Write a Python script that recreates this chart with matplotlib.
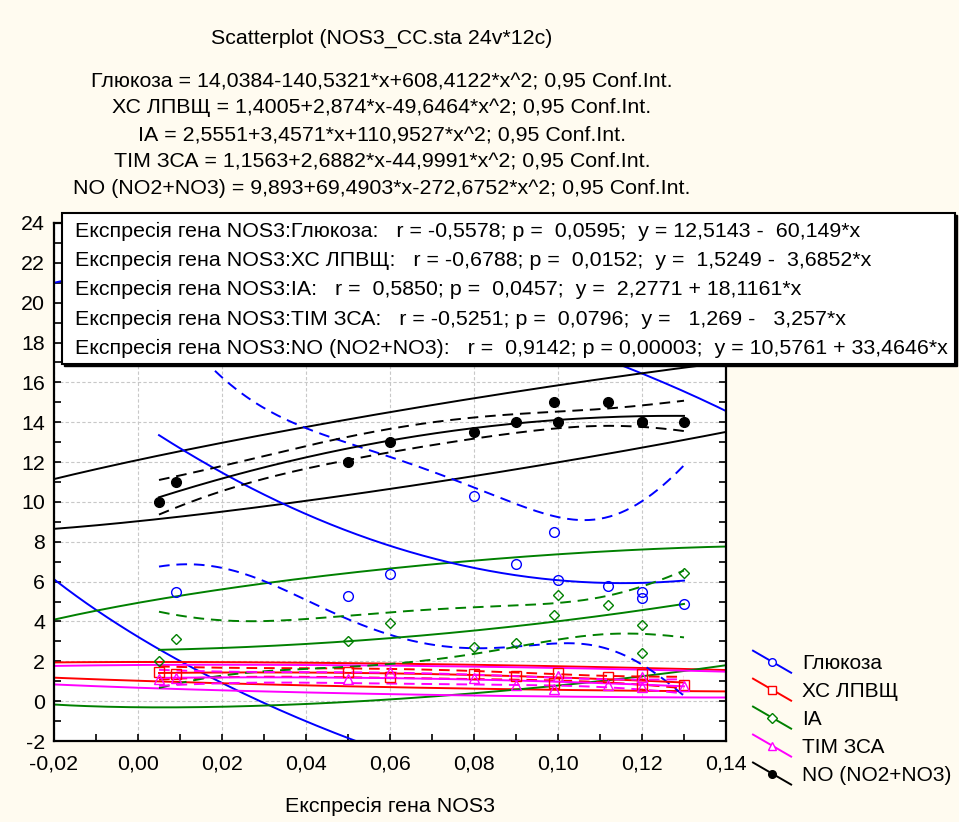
import numpy as np
import matplotlib
matplotlib.use("Agg")
import matplotlib.pyplot as plt
from matplotlib.lines import Line2D
from matplotlib.legend_handler import HandlerBase
from matplotlib.patches import Rectangle
from matplotlib.ticker import MultipleLocator, FuncFormatter

plt.rcParams["font.family"] = ["Liberation Sans", "DejaVu Sans"]

# ---- data -------------------------------------------------------------
x_expr = [0.005, 0.009, 0.05, 0.06, 0.08, 0.09, 0.099, 0.10, 0.112, 0.12, 0.12, 0.13]
glucose = [20.9, 5.5, 5.3, 6.4, 10.3, 6.9, 8.5, 6.1, 5.8, 5.5, 5.2, 4.9]
hdl = [1.47, 1.34, 1.47, 1.2, 1.34, 1.27, 0.92, 1.42, 1.22, 1.37, 0.85, 0.8]
ia = [2.03, 3.13, 3.03, 3.93, 2.73, 2.93, 4.33, 5.33, 4.83, 3.83, 2.43, 6.43]
tim = [1.1, 1.15, 1.1, 1.45, 1.15, 0.8, 0.6, 1.25, 0.8, 1.2, 0.7, 0.75]
no_total = [10, 11, 12, 13, 13.5, 14, 15, 14, 15, 14, 14, 14]

series_names = ["Глюкоза", "ХС ЛПВЩ", "ІА", "ТІМ ЗСА", "NO (NO2+NO3)"]
series_values = [glucose, hdl, ia, tim, no_total]

# quadratic fits: b0 + b1*x + b2*x^2
quad_coefs = [
    [14.0384, -140.5321, 608.4122],
    [1.4005, 2.874, -49.6464],
    [2.5551, 3.4571, 110.9527],
    [1.1563, 2.6882, -44.9991],
    [9.893, 69.4903, -272.6752],
]
quad_texts = [
    "Глюкоза = 14,0384-140,5321*x+608,4122*x^2; 0,95 Conf.Int.",
    "ХС ЛПВЩ = 1,4005+2,874*x-49,6464*x^2; 0,95 Conf.Int.",
    "ІА = 2,5551+3,4571*x+110,9527*x^2; 0,95 Conf.Int.",
    "ТІМ ЗСА = 1,1563+2,6882*x-44,9991*x^2; 0,95 Conf.Int.",
    "NO (NO2+NO3) = 9,893+69,4903*x-272,6752*x^2; 0,95 Conf.Int.",
]
corr_texts = [
    "Експресія гена NOS3:Глюкоза:   r = -0,5578; p =  0,0595;  y = 12,5143 -  60,149*x",
    "Експресія гена NOS3:ХС ЛПВЩ:   r = -0,6788; p =  0,0152;  y =  1,5249 -  3,6852*x",
    "Експресія гена NOS3:ІА:   r =  0,5850; p =  0,0457;  y =  2,2771 + 18,1161*x",
    "Експресія гена NOS3:ТІМ ЗСА:   r = -0,5251; p =  0,0796;  y =   1,269 -   3,257*x",
    "Експресія гена NOS3:NO (NO2+NO3):   r =  0,9142; p = 0,00003;  y = 10,5761 + 33,4646*x",
]

# ---- styles -----------------------------------------------------------
colors = ["#0000FF", "#FF0000", "#008000", "#FF00FF", "#000000"]
markers = ["o", "s", "D", "^", "o"]
msizes = [7, 7, 5.5, 7.5, 7]
filled = [False, False, False, False, True]

BG = "#FFFBF0"
FS = 15.4
T_975_9 = 2.2622  # Student t, 0.975 quantile, 9 df

fig = plt.figure(figsize=(9.59, 8.22), dpi=100, facecolor=BG)
ax = fig.add_axes([54 / 959, 1 - 741 / 822, 672 / 959, 518 / 822])
ax.set_facecolor("white")

x = np.asarray(x_expr, float)
n = len(x)
xg = np.linspace(x.min(), x.max(), 200)
X = np.column_stack([np.ones(n), x, x ** 2])
Xg = np.column_stack([np.ones_like(xg), xg, xg ** 2])
XtX_inv = np.linalg.inv(X.T @ X)

# scale of the 95% prediction ellipse (F quantile with 2 and n-2 df)
nu = n - 2
f_q = nu / 2 * (0.05 ** (-2 / nu) - 1)
ell_c = np.sqrt(2 * (n - 1) * (n + 1) / (n * (n - 2)) * f_q)
t = np.linspace(0, 2 * np.pi, 720)

dash = (0, (5.5, 3.5))
for vals, coef, col, mk, ms, fl in zip(series_values, quad_coefs, colors, markers, msizes, filled):
    y = np.asarray(vals, float)
    b = np.asarray(coef)
    # fitted curve and confidence band of the mean
    yfit = Xg @ b
    resid = y - X @ b
    s = np.sqrt(resid @ resid / (n - 3))
    se = s * np.sqrt(np.einsum("ij,jk,ik->i", Xg, XtX_inv, Xg))
    ax.plot(xg, yfit, color=col, lw=1.4, zorder=3)
    ax.plot(xg, yfit + T_975_9 * se, color=col, lw=1.4, ls=dash, zorder=3)
    ax.plot(xg, yfit - T_975_9 * se, color=col, lw=1.4, ls=dash, zorder=3)
    # prediction ellipse
    cov = np.cov(np.vstack([x, y]))
    L = np.linalg.cholesky(cov)
    pts = np.array([x.mean(), y.mean()])[:, None] + ell_c * L @ np.vstack([np.cos(t), np.sin(t)])
    ax.plot(pts[0], pts[1], color=col, lw=1.4, zorder=2)
    # points
    ax.plot(x, y, ls="none", marker=mk, ms=ms, mec=col, mew=1.0,
            mfc=col if fl else "none", zorder=4)

ax.set_xlim(-0.02, 0.14)
ax.set_ylim(-2, 24)
ax.xaxis.set_major_locator(MultipleLocator(0.02))
ax.xaxis.set_minor_locator(MultipleLocator(0.01))
ax.yaxis.set_major_locator(MultipleLocator(2))
ax.yaxis.set_minor_locator(MultipleLocator(1))
ax.xaxis.set_major_formatter(FuncFormatter(lambda v, p: f"{v:.2f}".replace(".", ",").replace("-0,00", "0,00")))
ax.yaxis.set_major_formatter(FuncFormatter(lambda v, p: f"{v:.0f}"))
ax.tick_params(which="both", direction="in", top=True, right=True, length=5, width=1.2,
               labelsize=FS)
ax.tick_params(axis="x", pad=10)
ax.tick_params(axis="y", pad=6.5)
ax.grid(True, which="major", color="#C8C8C8", lw=0.8, ls=(0, (3, 2)))
for sp in ax.spines.values():
    sp.set_linewidth(1.6)
ax.set_xlabel("Експресія гена NOS3", fontsize=FS, labelpad=16.5)

# titles
fig.text(382 / 959, 1 - 38 / 822, "Scatterplot (NOS3_CC.sta 24v*12c)", ha="center", va="center", fontsize=FS)
for i, s in enumerate(quad_texts):
    fig.text(382 / 959, 1 - (81 + 26.8 * i) / 822, s, ha="center", va="center", fontsize=FS)

# statistics box
bx0, bx1, by0, by1 = 62 / 959, 955 / 959, 1 - 364 / 822, 1 - 213 / 822
fig.add_artist(Rectangle((bx0 + 2 / 959, by0 - 2 / 822), bx1 - bx0, by1 - by0,
                         transform=fig.transFigure, facecolor="black", edgecolor="black", zorder=5))
fig.add_artist(Rectangle((bx0, by0), bx1 - bx0, by1 - by0, transform=fig.transFigure,
                         facecolor="white", edgecolor="black", lw=1.5, zorder=6))
for i, s in enumerate(corr_texts):
    fig.text(75 / 959, 1 - (231 + 29.4 * i) / 822, s, ha="left", va="center", fontsize=FS, zorder=7)


# legend with slanted line handles
class SlantHandler(HandlerBase):
    def create_artists(self, legend, orig, xdescent, ydescent, width, height, fontsize, trans):
        x0, x1 = -xdescent, -xdescent + width
        yc = -ydescent + height / 2
        h = 0.53 * fontsize
        ln = Line2D([x0, x1], [yc + h, yc - h], color=orig.get_color(), lw=1.4)
        mk = Line2D([(x0 + x1) / 2], [yc], ls="none", marker=orig.get_marker(),
                    ms=orig.get_markersize(), mec=orig.get_markeredgecolor(),
                    mfc=orig.get_markerfacecolor(), mew=1.0)
        ln.set_transform(trans)
        mk.set_transform(trans)
        return [ln, mk]


handles = [Line2D([], [], color=c, marker=m, ms=5.5, mec=c, mfc=c if f else "white")
           for c, m, f in zip(colors, markers, filled)]
fig.legend(handles, series_names, loc="upper left", bbox_to_anchor=(753 / 959, 1 - 654 / 822),
           frameon=False, fontsize=15, handlelength=1.83, handletextpad=0.53, labelspacing=0.43,
           borderpad=0, borderaxespad=0, handler_map={Line2D: SlantHandler()})

fig.savefig("out.png", dpi=100, facecolor=BG)
